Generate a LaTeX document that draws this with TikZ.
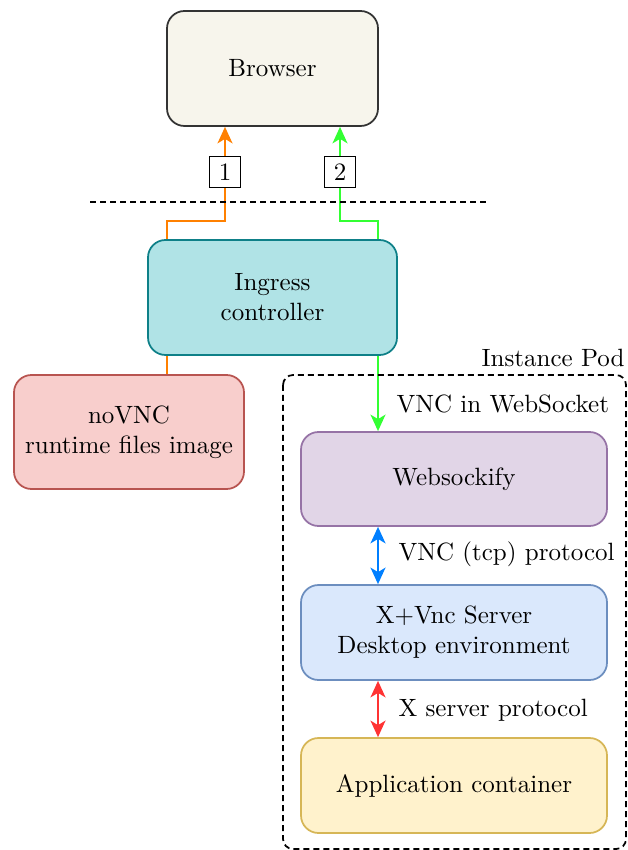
\documentclass[tikz,border=0pt]{standalone}
\usetikzlibrary{arrows.meta,backgrounds}
\definecolor{browserfill}{HTML}{F7F5EC}
\definecolor{browserdraw}{HTML}{333333}
\definecolor{ingfill}{HTML}{B0E3E6}
\definecolor{ingdraw}{HTML}{0E8088}
\definecolor{novfill}{HTML}{F8CECC}
\definecolor{novdraw}{HTML}{B85450}
\definecolor{wsfill}{HTML}{E1D5E7}
\definecolor{wsdraw}{HTML}{9673A6}
\definecolor{xfill}{HTML}{DAE8FC}
\definecolor{xdraw}{HTML}{6C8EBF}
\definecolor{appfill}{HTML}{FFF2CC}
\definecolor{appdraw}{HTML}{D6B656}
\definecolor{corange}{HTML}{FF8000}
\definecolor{cgreen}{HTML}{33FF33}
\definecolor{cblue}{HTML}{007FFF}
\definecolor{cred}{HTML}{FF3333}
\begin{document}
\begin{tikzpicture}[x=0.40pt,y=-0.40pt,
  box/.style={rounded corners=7pt, line width=0.7pt, align=center, inner sep=0pt},
  numbox/.style={draw=black, fill=white, line width=0.6pt, minimum width=12.4pt, minimum height=12.4pt, inner sep=0pt},
  conn/.style={line width=0.7pt},
  tip/.tip={Stealth[length=6.6pt,width=6pt,inset=1.8pt]},
  lbl/.style={anchor=west, inner sep=0pt}
]
\useasboundingbox (0,0) rectangle (627,850);
\node[box, fill=browserfill, draw=browserdraw, minimum width=0.40*211pt, minimum height=0.40*115pt] (browser) at (272.5,68.5) {Browser};
\node[box, fill=ingfill, draw=ingdraw, minimum width=0.40*249pt, minimum height=0.40*115pt] (ingress) at (272.5,297.5) {Ingress\\controller};
\node[box, fill=novfill, draw=novdraw, minimum width=0.40*230pt, minimum height=0.40*114pt] (novnc) at (129,432) {noVNC\\runtime files image};
\node[box, fill=wsfill, draw=wsdraw, minimum width=0.40*306pt, minimum height=0.40*94pt] (ws) at (454,479) {Websockify};
\node[box, fill=xfill, draw=xdraw, minimum width=0.40*306pt, minimum height=0.40*95pt] (xvnc) at (454,632.5) {X+Vnc Server\\Desktop environment};
\node[box, fill=appfill, draw=appdraw, minimum width=0.40*306pt, minimum height=0.40*95pt] (app) at (454,785.5) {Application container};

\coordinate (podtl) at (283,375);
\coordinate (podbr) at (626,849);
\draw[line width=0.7pt, rounded corners=4pt, dash pattern=on 2.4pt off 1.6pt] (podtl) rectangle (podbr);
\node[anchor=east, inner sep=0pt] (podlbl) at (625,358) {Instance Pod};

\coordinate (dl) at (90,202);
\coordinate (dr) at (487,202);
\draw[line width=0.7pt, dash pattern=on 2.4pt off 1.6pt] (dl) -- (dr);

\coordinate (o1) at (167,221);
\coordinate (o2) at (225,221);
\coordinate (g1) at (340,221);
\coordinate (g2) at (378,221);

\begin{scope}[on background layer]
\draw[conn, draw=corange, -tip] (novnc.north -| o1) -- (o1) -- (o2) -- (o2 |- browser.south);
\draw[conn, draw=cgreen, tip-tip] (g1 |- browser.south) -- (g1) -- (g2) -- (g2 |- ws.north);
\end{scope}

\node[numbox] (n1) at (225,172) {1};
\node[numbox] (n2) at (340,172) {2};

\draw[conn, draw=cblue, tip-tip] (ws.south -| g2) -- (xvnc.north -| g2);
\draw[conn, draw=cred, tip-tip] (xvnc.south -| g2) -- (app.north -| g2);

\node[lbl] (l1) at (396,404) {VNC in WebSocket};
\node[lbl] (l2) at (398,554) {VNC (tcp) protocol};
\node[lbl] (l3) at (398,710) {X server protocol};
\end{tikzpicture}
\end{document}
